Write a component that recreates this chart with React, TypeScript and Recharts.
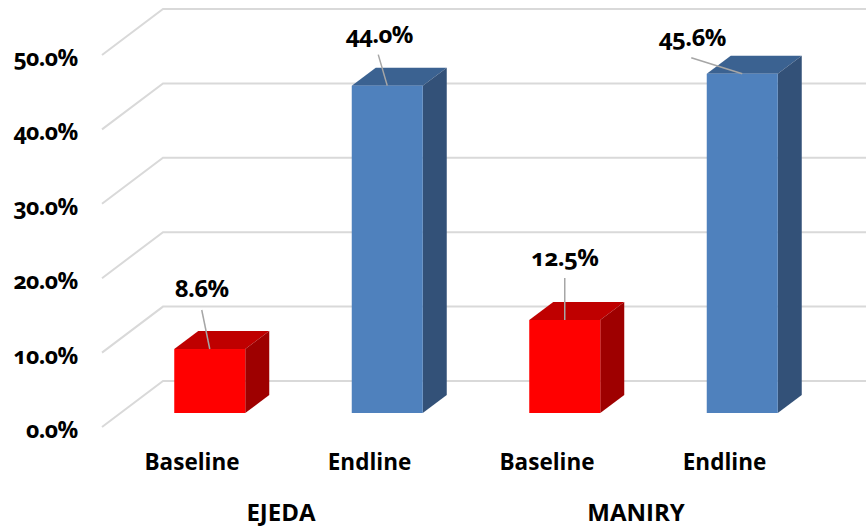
import React from 'react';
import { BarChart, Bar, XAxis, YAxis, CartesianGrid, LabelList, Cell } from 'recharts';

const sites = ['EJEDA', 'EJEDA', 'MANIRY', 'MANIRY'];
const phases = ['Baseline', 'Endline', 'Baseline', 'Endline'];
const values = [8.6, 44.0, 12.5, 45.6];
const yTicks = [0, 10, 20, 30, 40, 50];

const chartData = phases.map((phase, i) => ({ phase, site: sites[i], value: values[i] }));

const WIDTH = 866;
const HEIGHT = 529;
const FONT = '"Open Sans", sans-serif';
const NUMERALS = { fontFeatureSettings: '"onum"', letterSpacing: -0.6 };

// depth of the box faces, and of the floor back to the wall
const BAR_DX = 24;
const BAR_DY = 18;
const WALL_X = 163;
const WALL_DY = 32;
const FRONT_DY = 14;
const AXIS_X = 102;
const GRID = '#d9d9d9';

const shades: Record<string, { front: string; top: string; side: string }> = {
  Baseline: { front: '#ff0000', top: '#bf0000', side: '#9e0000' },
  Endline: { front: '#4f81bd', top: '#3b6291', side: '#335178' },
};

// label position relative to the centre of the bar's top edge, by bar
const labelOffsets = [
  { dx: -8, dy: -61.5, lineX: -8, lineY: -39 },
  { dx: -8, dy: -52.5, lineX: -9, lineY: -31 },
  { dx: 0, dy: -63.5, lineX: 0, lineY: -42 },
  { dx: -50, dy: -37.5, lineX: -51, lineY: -16 },
];

const Box3D = (props: any) => {
  const { x, y, width, height, payload } = props;
  const c = shades[payload.phase];
  const r = x + width;
  const b = y + height;
  return (
    <g>
      <polygon points={`${x},${y} ${x + BAR_DX},${y - BAR_DY} ${r + BAR_DX},${y - BAR_DY} ${r},${y}`} fill={c.top} />
      <polygon points={`${r},${y} ${r + BAR_DX},${y - BAR_DY} ${r + BAR_DX},${b - BAR_DY} ${r},${b}`} fill={c.side} />
      <rect x={x} y={y} width={width} height={height} fill={c.front} />
    </g>
  );
};

// gridline running along the side wall and then the back wall
const WallLine = ({ y1 }: any) => (
  <polyline
    key={y1}
    points={`${AXIS_X},${y1 + FRONT_DY} ${WALL_X},${y1 - WALL_DY} ${WIDTH},${y1 - WALL_DY}`}
    fill="none"
    stroke={GRID}
    strokeWidth={2}
  />
);

const ValueTick = ({ y, payload }: any) => (
  <text
    x={77.5}
    y={y + 16}
    textAnchor="end"
    dominantBaseline="central"
    fontFamily={FONT}
    fontWeight={700}
    fontSize={23}
    fill="#000"
    style={NUMERALS}
  >
    {payload.value.toFixed(1)}%
  </text>
);

// phase label, with the site name under the first bar of each pair
const CategoryTick = ({ x, payload, index }: any) => (
  <g fontFamily={FONT} fontWeight={700} fill="#000" textAnchor="middle">
    <text x={x - 18} y={461} dominantBaseline="central" fontSize={22.5}>
      {payload.value}
    </text>
    {index % 2 === 0 && (
      <text x={x + 71} y={511} dominantBaseline="central" fontSize={24}>
        {sites[index]}
      </text>
    )}
  </g>
);

const CalloutLabel = ({ x, y, width, value, index }: any) => {
  const o = labelOffsets[index];
  const cx = x + width / 2;
  return (
    <g>
      <line x1={cx} y1={y} x2={cx + o.lineX} y2={y + o.lineY} stroke="#a6a6a6" strokeWidth={1.5} />
      <text
        x={cx + o.dx}
        y={y + o.dy}
        textAnchor="middle"
        dominantBaseline="central"
        fontFamily={FONT}
        fontWeight={700}
        fontSize={24}
        fill="#000"
        style={NUMERALS}
      >
        {value.toFixed(1)}%
      </text>
    </g>
  );
};

export default function App() {
  return (
    <div style={{ position: 'absolute', left: 0, top: 0, width: WIDTH, height: HEIGHT, background: '#fff' }}>
      <BarChart
        width={WIDTH}
        height={HEIGHT}
        data={chartData}
        margin={{ top: 41, right: 34.75, bottom: 0, left: 0 }}
      >
        <CartesianGrid vertical={false} horizontal={WallLine} />
        <YAxis
          type="number"
          domain={[0, 50]}
          ticks={yTicks}
          width={121.25}
          axisLine={false}
          tickLine={false}
          tick={ValueTick}
        />
        <XAxis
          dataKey="phase"
          height={116}
          interval={0}
          axisLine={false}
          tickLine={false}
          tick={CategoryTick}
        />
        <Bar dataKey="value" barSize={71} shape={Box3D} isAnimationActive={false}>
          {chartData.map((d, i) => (
            <Cell key={i} fill={shades[d.phase].front} />
          ))}
          <LabelList dataKey="value" content={CalloutLabel} />
        </Bar>
      </BarChart>
    </div>
  );
}
